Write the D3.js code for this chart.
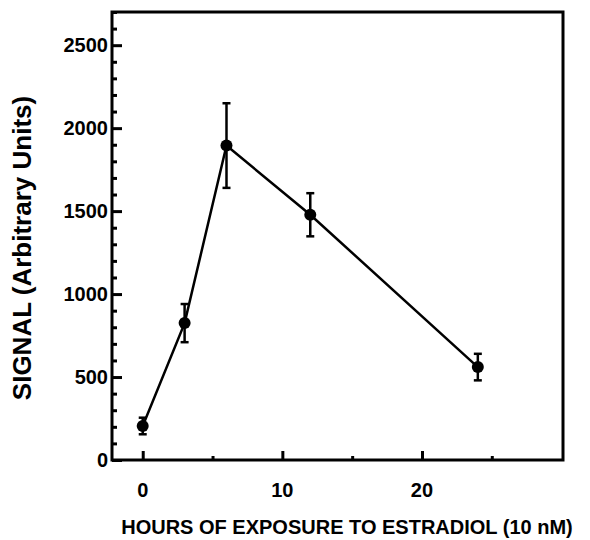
<!DOCTYPE html>
<html>
<head>
<meta charset="utf-8">
<script src="https://cdn.jsdelivr.net/npm/d3@7"></script>
<style>
  html, body { margin: 0; padding: 0; background: #fff; }
  svg { display: block; }
  text { font-family: "Liberation Sans", Arial, sans-serif; font-weight: bold; fill: #000; }
</style>
</head>
<body>
<script>
// ---- data ----
const hours  = [0, 3, 6, 12, 24];
const signal = [205, 825, 1895, 1478, 560];
const errors = [50, 115, 255, 130, 80];
const xMajorTicks = [0, 10, 20];
const xMinorTicks = [5, 15, 25];
const yMajorTicks = [0, 500, 1000, 1500, 2000, 2500];
const yMinorTicks = d3.range(0, 2701, 100).filter(v => v % 500 !== 0);
const xTitle = "HOURS OF EXPOSURE TO ESTRADIOL (10 nM)";
const yTitle = "SIGNAL (Arbitrary Units)";

const W = 590, H = 540;
const svg = d3.select("body").append("svg").attr("width", W).attr("height", H);

const x = d3.scaleLinear().domain([-2.2, 30.1]).range([112, 563]);
const y = d3.scaleLinear().domain([0, 2700]).range([460, 12]);

// frame
svg.append("rect")
  .attr("x", x.range()[0]).attr("y", y.range()[1])
  .attr("width", x.range()[1] - x.range()[0])
  .attr("height", y.range()[0] - y.range()[1])
  .attr("fill", "none").attr("stroke", "#000").attr("stroke-width", 3);

// y axis ticks (inward)
const yAxisMajor = d3.axisRight(y).tickValues(yMajorTicks).tickSize(10).tickFormat("");
const yAxisMinor = d3.axisRight(y).tickValues(yMinorTicks).tickSize(5).tickFormat("");
[yAxisMajor, yAxisMinor].forEach(ax => {
  const g = svg.append("g").attr("transform", `translate(${x.range()[0]},0)`).call(ax);
  g.select(".domain").remove();
  g.selectAll("line").attr("stroke", "#000").attr("stroke-width", 3);
});
// y labels
svg.append("g").selectAll("text").data(yMajorTicks).join("text")
  .attr("x", 108).attr("y", d => y(d)).attr("dy", "0.36em")
  .attr("text-anchor", "end").attr("font-size", 20).text(d => d);

// x axis ticks (inward)
const xAxisMajor = d3.axisTop(x).tickValues(xMajorTicks).tickSize(9).tickFormat("");
const xAxisMinor = d3.axisTop(x).tickValues(xMinorTicks).tickSize(4).tickFormat("");
[xAxisMajor, xAxisMinor].forEach(ax => {
  const g = svg.append("g").attr("transform", `translate(0,${y.range()[0]})`).call(ax);
  g.select(".domain").remove();
  g.selectAll("line").attr("stroke", "#000").attr("stroke-width", 3);
});
svg.append("g").selectAll("text").data(xMajorTicks).join("text")
  .attr("x", d => x(d)).attr("y", 497)
  .attr("text-anchor", "middle").attr("font-size", 20).text(d => d);

// titles
svg.append("text").attr("x", 347).attr("y", 534)
  .attr("text-anchor", "middle").attr("font-size", 20).text(xTitle);
svg.append("text").attr("transform", "translate(31,248) rotate(-90)")
  .attr("text-anchor", "middle").attr("font-size", 26).text(yTitle);

// line
const pts = hours.map((h, i) => ({h, v: signal[i], e: errors[i]}));
svg.append("path").datum(pts)
  .attr("d", d3.line().x(d => x(d.h)).y(d => y(d.v)))
  .attr("fill", "none").attr("stroke", "#000").attr("stroke-width", 2.5);

// error bars
const eb = svg.append("g").attr("stroke", "#000").attr("stroke-width", 2.5);
eb.selectAll("line.v").data(pts).join("line").attr("class", "v")
  .attr("x1", d => x(d.h)).attr("x2", d => x(d.h))
  .attr("y1", d => y(d.v - d.e)).attr("y2", d => y(d.v + d.e));
eb.selectAll("line.top").data(pts).join("line").attr("class", "top")
  .attr("x1", d => x(d.h) - 4).attr("x2", d => x(d.h) + 4)
  .attr("y1", d => y(d.v + d.e)).attr("y2", d => y(d.v + d.e));
eb.selectAll("line.bot").data(pts).join("line").attr("class", "bot")
  .attr("x1", d => x(d.h) - 4).attr("x2", d => x(d.h) + 4)
  .attr("y1", d => y(d.v - d.e)).attr("y2", d => y(d.v - d.e));

// markers
svg.append("g").selectAll("circle").data(pts).join("circle")
  .attr("cx", d => x(d.h)).attr("cy", d => y(d.v)).attr("r", 6)
  .attr("fill", "#000");
</script>
</body>
</html>
